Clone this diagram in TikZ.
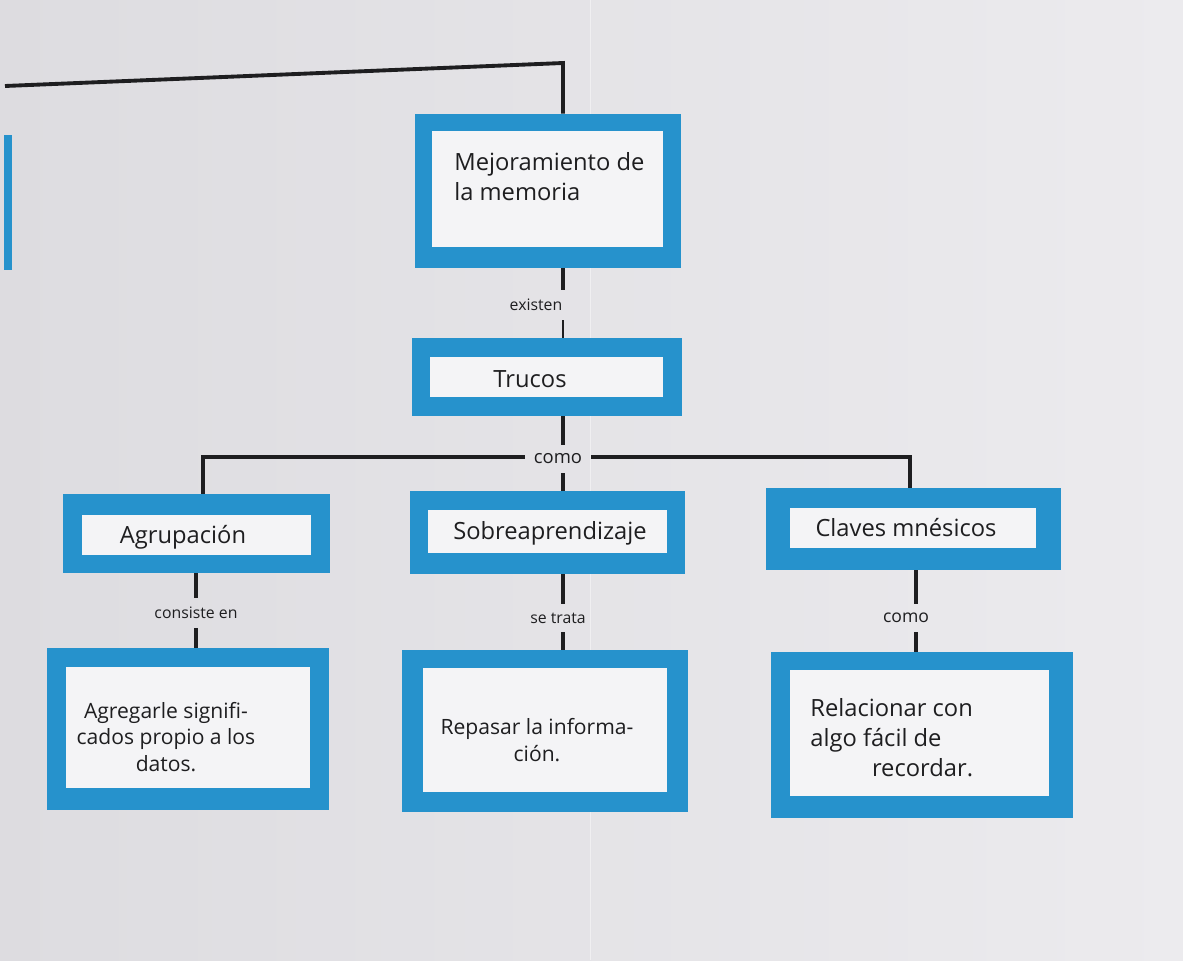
\documentclass[tikz,border=0pt]{standalone}
\usepackage{fontspec}
\setmainfont{Open Sans}
\usetikzlibrary{fit}
\definecolor{boxblue}{RGB}{38,146,204}
\definecolor{paperL}{RGB}{221,220,224}
\definecolor{paperR}{RGB}{236,235,238}
\definecolor{cardwhite}{RGB}{244,244,246}
\definecolor{ink}{RGB}{30,30,32}
\begin{document}
\begin{tikzpicture}[x=0.02cm,y=-0.02cm,
  outerbox/.style={fill=boxblue, draw=none, inner sep=0pt},
  innerbox/.style={fill=cardwhite, draw=none, inner sep=0pt},
  conn/.style={line width=2.2pt, draw=ink},
  lbl/.style={font=\fontsize{9}{10}\selectfont, text=ink, inner xsep=5pt, inner ysep=5pt},
  txt/.style={font=\fontsize{13.5}{17}\selectfont, text=ink, inner sep=0pt},
  smalltxt/.style={font=\fontsize{12}{15}\selectfont, text=ink, inner sep=0pt}]

% paper
\fill[left color=paperL, right color=paperR] (0,0) rectangle (1183,960);
\useasboundingbox (0,0) rectangle (1183,960);
\draw[paperR!80!white, line width=0.5pt] (590,0) -- (590,960);
% partly visible box at the left edge
\fill[boxblue] (4,135) rectangle (12,270);

% boxes
\node[outerbox, fit={(415,114) (681,268)}] (mejo) {};
\node[innerbox, fit={(432,131) (663,247)}] (mejoin) {};
\node[txt, anchor=north west, align=left] (mejot) at (454,152) {Mejoramiento de\\la memoria};

\node[outerbox, fit={(412,338) (682,416)}] (trucos) {};
\node[innerbox, fit={(430,357) (663,397)}] (trucosin) {};
\node[txt] (trucost) at (530,379) {Trucos};

\node[outerbox, fit={(63,494) (330,573)}] (agr) {};
\node[innerbox, fit={(82,515) (311,555)}] (agrin) {};
\node[txt] (agrt) at (183,537) {Agrupación};

\node[outerbox, fit={(410,491) (685,574)}] (sobre) {};
\node[innerbox, fit={(428,510) (667,553)}] (sobrein) {};
\node[txt] (sobret) at (550,533) {Sobreaprendizaje};

\node[outerbox, fit={(766,488) (1061,570)}] (claves) {};
\node[innerbox, fit={(790,508) (1036,548)}] (clavesin) {};
\node[txt] (clavest) at (906,528) {Claves mnésicos};

\node[outerbox, fit={(47,648) (329,810)}] (agre) {};
\node[innerbox, fit={(66,667) (310,788)}] (agrein) {};
\node[smalltxt, align=center] (agret) at (166,737) {Agregarle signifi-\\cados propio a los\\datos.};

\node[outerbox, fit={(402,650) (688,812)}] (repa) {};
\node[innerbox, fit={(423,668) (667,792)}] (repain) {};
\node[smalltxt, align=center] (repat) at (537,740) {Repasar la informa-\\ción.};

\node[outerbox, fit={(771,652) (1073,818)}] (rela) {};
\node[innerbox, fit={(790,670) (1049,796)}] (relain) {};
\node[txt, align=left, anchor=north west] (relat) at (810,698) {Relacionar con\\algo fácil de\\\hspace*{2.6em}recordar.};

% labels
\node[lbl] (lexist) at (536,305) {existen};
\node[lbl, font=\fontsize{10.5}{12}\selectfont] (lcomo) at (558,459) {como};
\node[lbl] (lcons) at (196,613) {consiste en};
\node[lbl] (ltrata) at (558,618) {se trata};
\node[lbl, font=\fontsize{10}{12}\selectfont] (lcomo2) at (906,618) {como};

% connectors
\coordinate (tl) at (5,86);
\coordinate (tc) at (563,63);
\draw[conn] (tl) -- (tc) -- (tc |- mejo.north);

\draw[conn] (tc |- mejo.south) -- (tc |- lexist.north);
\draw[conn, line width=1.3pt] (tc |- lexist.south) -- (tc |- trucos.north);

\draw[conn] (tc |- trucos.south) -- (tc |- lcomo.north);
\draw[conn] (tc |- lcomo.south) -- (tc |- sobre.north);

\coordinate (hl) at (203,457);
\coordinate (hr) at (910,457);
\draw[conn] (lcomo.west |- hl) -- (hl) -- (hl |- agr.north);
\draw[conn] (lcomo.east |- hr) -- (hr) -- (hr |- claves.north);

\coordinate (va) at (196,0);
\draw[conn] (va |- agr.south) -- (va |- lcons.north);
\draw[conn] (va |- lcons.south) -- (va |- agre.north);

\draw[conn] (tc |- sobre.south) -- (tc |- ltrata.north);
\draw[conn] (tc |- ltrata.south) -- (tc |- repa.north);

\coordinate (vc) at (916,0);
\draw[conn] (vc |- claves.south) -- (vc |- lcomo2.north);
\draw[conn] (vc |- lcomo2.south) -- (vc |- rela.north);
\end{tikzpicture}
\end{document}
